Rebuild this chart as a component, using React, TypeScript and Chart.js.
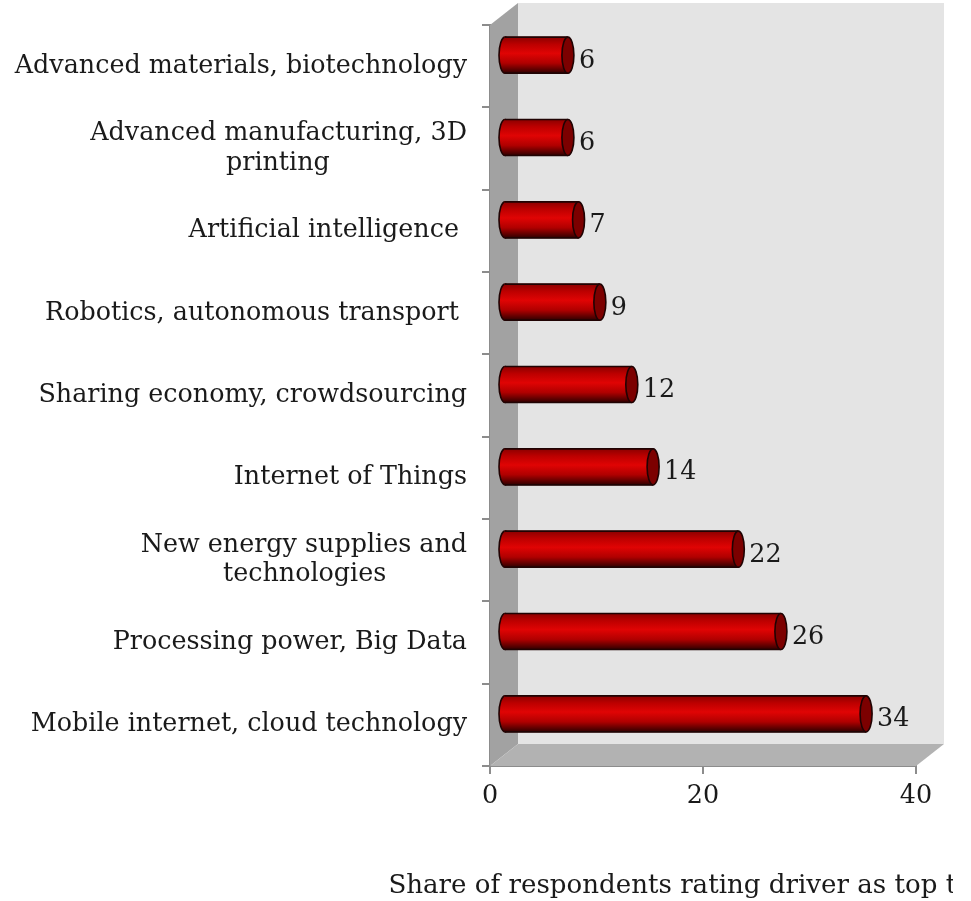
import React, { useEffect, useRef } from "react";
import { Chart, registerables } from "chart.js";

Chart.register(...registerables);

const categories: (string | string[])[] = [
  "Advanced materials, biotechnology",
  ["Advanced manufacturing, 3D", "printing                 "],
  "Artificial intelligence ",
  "Robotics, autonomous transport ",
  "Sharing economy, crowdsourcing",
  "Internet of Things",
  ["New energy supplies and", "technologies          "],
  "Processing power, Big Data",
  "Mobile internet, cloud technology",
];
const shares = [6, 6, 7, 9, 12, 14, 22, 26, 34];
const axisTitle = "Share of respondents rating driver as top trend";

const FONT = "'DejaVu Serif'";
const FONT_SIZE = 25.4;
const TITLE_SIZE = 26.1;
const TEXT = "#1a1a1a";
const DX = 28;
const DY = 22;
const BAR = 36;

function cylinderFill(ctx: CanvasRenderingContext2D, y: number, h: number) {
  const g = ctx.createLinearGradient(0, y - h / 2, 0, y + h / 2);
  g.addColorStop(0, "#8c0000");
  g.addColorStop(0.2, "#bc0000");
  g.addColorStop(0.45, "#e00404");
  g.addColorStop(0.72, "#b00000");
  g.addColorStop(1, "#300000");
  return g;
}

const box3d = {
  id: "box3d",
  beforeDatasetsDraw(chart: any) {
    const { ctx, chartArea: a } = chart;
    ctx.save();
    ctx.fillStyle = "#e4e4e4";
    ctx.fillRect(a.left + DX, a.top - DY, a.width, a.height);
    ctx.fillStyle = "#a2a2a2";
    ctx.beginPath();
    ctx.moveTo(a.left, a.top);
    ctx.lineTo(a.left + DX, a.top - DY);
    ctx.lineTo(a.left + DX, a.bottom - DY);
    ctx.lineTo(a.left, a.bottom);
    ctx.closePath();
    ctx.fill();
    ctx.fillStyle = "#b2b2b2";
    ctx.beginPath();
    ctx.moveTo(a.left, a.bottom);
    ctx.lineTo(a.left + DX, a.bottom - DY);
    ctx.lineTo(a.right + DX, a.bottom - DY);
    ctx.lineTo(a.right, a.bottom);
    ctx.closePath();
    ctx.fill();
    ctx.restore();
  },
  beforeDatasetDraw(chart: any) {
    const { ctx } = chart;
    ctx.save();
    ctx.translate(DX / 2, -DY / 2);
    chart.getDatasetMeta(0).data.forEach((b: any) => {
      ctx.beginPath();
      ctx.ellipse(b.base, b.y, 6, b.height / 2, 0, 0, Math.PI * 2);
      ctx.fillStyle = cylinderFill(ctx, b.y, b.height);
      ctx.fill();
      ctx.strokeStyle = "#200303";
      ctx.lineWidth = 1.6;
      ctx.stroke();
    });
  },
  afterDatasetDraw(chart: any) {
    const { ctx } = chart;
    chart.getDatasetMeta(0).data.forEach((b: any) => {
      const top = b.y - b.height / 2;
      const bot = b.y + b.height / 2;
      ctx.strokeStyle = "#200303";
      ctx.lineWidth = 1.6;
      ctx.beginPath();
      ctx.moveTo(b.base, top);
      ctx.lineTo(b.x, top);
      ctx.moveTo(b.base, bot);
      ctx.lineTo(b.x, bot);
      ctx.stroke();
      ctx.beginPath();
      ctx.ellipse(b.x, b.y, 6, b.height / 2, 0, 0, Math.PI * 2);
      ctx.fillStyle = "#7c0000";
      ctx.fill();
      ctx.stroke();
    });
    ctx.restore();
    ctx.save();
    ctx.fillStyle = TEXT;
    ctx.font = `${FONT_SIZE}px ${FONT}`;
    ctx.textAlign = "left";
    ctx.textBaseline = "middle";
    chart.getDatasetMeta(0).data.forEach((b: any, i: number) => {
      ctx.fillText(String(shares[i]), b.x + DX / 2 + 11, b.y - DY / 2 + 6);
    });
    ctx.restore();
  },
  afterDraw(chart: any) {
    const { ctx, chartArea: a } = chart;
    ctx.save();
    ctx.fillStyle = TEXT;
    ctx.font = `${TITLE_SIZE}px ${FONT}`;
    ctx.textAlign = "center";
    ctx.textBaseline = "middle";
    ctx.fillText(axisTitle, (a.left + a.right) / 2, a.bottom + 120);
    ctx.restore();
  },
};

export default function App() {
  const ref = useRef<HTMLCanvasElement>(null);
  useEffect(() => {
    const chart = new Chart(ref.current!, {
      type: "bar",
      data: {
        labels: categories as any,
        datasets: [
          {
            data: shares,
            barThickness: BAR,
            backgroundColor: (c: any) => {
              const y = c.chart.scales.y?.getPixelForValue(c.dataIndex);
              if (!Number.isFinite(y)) return "#c00000";
              return cylinderFill(c.chart.ctx, y, BAR);
            },
          } as any,
        ],
      },
      options: {
        indexAxis: "y",
        animation: false,
        responsive: false,
        layout: { padding: { top: 25, right: 37, left: 0, bottom: 0 } },
        plugins: { legend: { display: false }, tooltip: { enabled: false } },
        scales: {
          x: {
            min: 0,
            max: 40,
            ticks: { stepSize: 20, color: TEXT, maxRotation: 0, font: { family: FONT, size: FONT_SIZE }, padding: 7 },
            grid: { drawOnChartArea: false, color: "#8c8c8c", lineWidth: 2, tickLength: 8 },
            border: { color: "#8c8c8c", width: 2 },
            afterFit: (s: any) => { s.height = 901 - 766; s.paddingRight = 0; s.paddingLeft = 0; },
          },
          y: {
            ticks: { color: TEXT, font: { family: FONT, size: FONT_SIZE, lineHeight: 1.15 }, padding: 15, autoSkip: false },
            grid: { drawOnChartArea: false, color: "#8c8c8c", lineWidth: 2, tickLength: 8, offset: true },
            border: { color: "#8c8c8c", width: 2 },
            afterFit: (s: any) => { s.width = 490; s.paddingTop = 0; s.paddingBottom = 0; },
          },
        },
      } as any,
      plugins: [box3d],
    });
    return () => chart.destroy();
  }, []);
  return (
    <canvas
      ref={ref}
      width={953}
      height={901}
      style={{ position: "absolute", left: 0, top: 0, background: "#fff" }}
    />
  );
}
